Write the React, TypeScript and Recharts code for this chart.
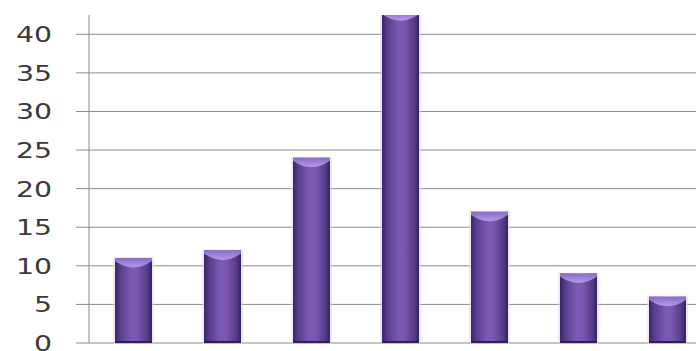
import { BarChart, Bar, XAxis, YAxis, CartesianGrid } from 'recharts'

const categories = ['A', 'B', 'C', 'D', 'E', 'F', 'G']
const counts = [11, 12, 24, 43, 17, 9, 6]
const yTicks = [0, 5, 10, 15, 20, 25, 30, 35, 40]

const data = categories.map((name, i) => ({ name, count: counts[i] }))

// eslint-disable-next-line @typescript-eslint/no-explicit-any
function WideTick({ x, y, payload }: any) {
  return (
    <g transform={`translate(${x},${y})`}>
      <text
        textAnchor="end"
        dy={8}
        fontSize={21}
        fontFamily="'DejaVu Sans', Verdana, sans-serif"
        fill="#3a3a3a"
        transform="scale(1.35,1)"
      >
        {payload.value}
      </text>
    </g>
  )
}

// eslint-disable-next-line @typescript-eslint/no-explicit-any
function TubeBar({ x, y, width, height }: any) {
  if (!height || height <= 0) return null
  const capDepth = Math.min(12, height)
  return (
    <g>
      <rect x={x - 2} y={y - 1} width={width + 4} height={height + 2} fill="#e4d8f4" opacity={0.6} />
      <rect x={x} y={y} width={width} height={height} fill="url(#tubeGrad)" />
      <path
        d={`M${x},${y} L${x + width},${y} L${x + width},${y + 3} Q${x + width / 2},${y + capDepth + 4} ${x},${y + 3} Z`}
        fill="url(#capGrad)"
      />
      <rect x={x} y={y + height - 2} width={width} height={2} fill="#2f1f52" />
    </g>
  )
}

export default function App() {
  return (
    <div
      style={{
        position: 'absolute',
        left: 0,
        top: 0,
        width: 696,
        height: 351,
        overflow: 'hidden',
        background: '#fff',
      }}
    >
      <BarChart
        width={712}
        height={380}
        data={data}
        margin={{ top: 15, right: 0, bottom: 37, left: 0 }}
        barSize={37}
      >
        <defs>
          <linearGradient id="tubeGrad" x1="0" y1="0" x2="1" y2="0">
            <stop offset="0%" stopColor="#3a2565" />
            <stop offset="15%" stopColor="#5a3e8e" />
            <stop offset="45%" stopColor="#7c5ab4" />
            <stop offset="60%" stopColor="#7a58b0" />
            <stop offset="88%" stopColor="#553a88" />
            <stop offset="100%" stopColor="#35225e" />
          </linearGradient>
          <linearGradient id="capGrad" x1="0" y1="0" x2="0" y2="1">
            <stop offset="0%" stopColor="#8a6cc6" />
            <stop offset="100%" stopColor="#b49ae8" />
          </linearGradient>
        </defs>
        <CartesianGrid vertical={false} stroke="#8a8a8a" horizontalValues={yTicks} />
        <XAxis dataKey="name" hide />
        <YAxis
          width={89}
          domain={[0, 42.5]}
          ticks={yTicks}
          allowDataOverflow
          tick={<WideTick />}
          tickSize={13}
          tickMargin={24}
          tickLine={{ stroke: '#8a8a8a' }}
          axisLine={{ stroke: '#8a8a8a' }}
          interval={0}
        />
        <Bar dataKey="count" shape={<TubeBar />} isAnimationActive={false} />
      </BarChart>
    </div>
  )
}
